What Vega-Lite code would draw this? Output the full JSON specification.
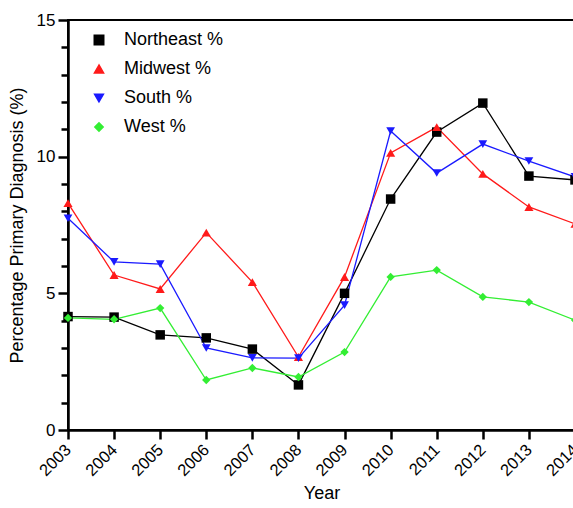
{
  "$schema": "https://vega.github.io/schema/vega-lite/v6.json",
  "width": 507,
  "height": 410,
  "autosize": {"type": "none"},
  "padding": {"left": 68, "top": 20, "right": 0, "bottom": 78},
  "background": "white",
  "config": {
    "font": "Liberation Sans",
    "view": {"stroke": "black", "strokeWidth": 2}
  },
  "data": {
    "values": [
      {"year": 2003, "region": "Northeast %", "value": 4.15},
      {"year": 2004, "region": "Northeast %", "value": 4.13},
      {"year": 2005, "region": "Northeast %", "value": 3.48},
      {"year": 2006, "region": "Northeast %", "value": 3.37},
      {"year": 2007, "region": "Northeast %", "value": 2.96},
      {"year": 2008, "region": "Northeast %", "value": 1.65},
      {"year": 2009, "region": "Northeast %", "value": 5.0},
      {"year": 2010, "region": "Northeast %", "value": 8.45},
      {"year": 2011, "region": "Northeast %", "value": 10.9},
      {"year": 2012, "region": "Northeast %", "value": 11.96},
      {"year": 2013, "region": "Northeast %", "value": 9.29},
      {"year": 2014, "region": "Northeast %", "value": 9.15},
      {"year": 2003, "region": "Midwest %", "value": 8.3},
      {"year": 2004, "region": "Midwest %", "value": 5.67},
      {"year": 2005, "region": "Midwest %", "value": 5.16},
      {"year": 2006, "region": "Midwest %", "value": 7.22},
      {"year": 2007, "region": "Midwest %", "value": 5.41},
      {"year": 2008, "region": "Midwest %", "value": 2.67},
      {"year": 2009, "region": "Midwest %", "value": 5.6},
      {"year": 2010, "region": "Midwest %", "value": 10.14},
      {"year": 2011, "region": "Midwest %", "value": 11.08},
      {"year": 2012, "region": "Midwest %", "value": 9.37},
      {"year": 2013, "region": "Midwest %", "value": 8.16},
      {"year": 2014, "region": "Midwest %", "value": 7.54},
      {"year": 2003, "region": "South %", "value": 7.75},
      {"year": 2004, "region": "South %", "value": 6.15},
      {"year": 2005, "region": "South %", "value": 6.07},
      {"year": 2006, "region": "South %", "value": 3.0},
      {"year": 2007, "region": "South %", "value": 2.64},
      {"year": 2008, "region": "South %", "value": 2.63},
      {"year": 2009, "region": "South %", "value": 4.57},
      {"year": 2010, "region": "South %", "value": 10.94},
      {"year": 2011, "region": "South %", "value": 9.4},
      {"year": 2012, "region": "South %", "value": 10.46},
      {"year": 2013, "region": "South %", "value": 9.84},
      {"year": 2014, "region": "South %", "value": 9.26},
      {"year": 2003, "region": "West %", "value": 4.1},
      {"year": 2004, "region": "West %", "value": 4.05},
      {"year": 2005, "region": "West %", "value": 4.46},
      {"year": 2006, "region": "West %", "value": 1.83},
      {"year": 2007, "region": "West %", "value": 2.27},
      {"year": 2008, "region": "West %", "value": 1.94},
      {"year": 2009, "region": "West %", "value": 2.85},
      {"year": 2010, "region": "West %", "value": 5.6},
      {"year": 2011, "region": "West %", "value": 5.85},
      {"year": 2012, "region": "West %", "value": 4.87},
      {"year": 2013, "region": "West %", "value": 4.68},
      {"year": 2014, "region": "West %", "value": 4.02}
    ]
  },
  "encoding": {
    "x": {
      "field": "year",
      "type": "quantitative",
      "scale": {"domain": [2003, 2014], "nice": false, "zero": false},
      "axis": {
        "title": "Year",
        "values": [2003, 2004, 2005, 2006, 2007, 2008, 2009, 2010, 2011, 2012, 2013, 2014],
        "format": "d",
        "grid": false,
        "domainColor": "black",
        "domainWidth": 2.5,
        "tickColor": "black",
        "tickWidth": 2.5,
        "tickSize": 9,
        "labelAngle": -45,
        "labelAlign": "right",
        "labelBaseline": "middle",
        "labelPadding": 8,
        "labelFontSize": 16.5,
        "labelColor": "black",
        "labelFlush": false,
        "labelOverlap": false,
        "titleFontSize": 18,
        "titleFontWeight": "normal",
        "titleColor": "black",
        "titlePadding": 6
      }
    },
    "y": {
      "field": "value",
      "type": "quantitative",
      "scale": {"domain": [0, 15], "nice": false},
      "axis": {
        "title": "Percentage Primary Diagnosis (%)",
        "values": [0, 1, 2, 3, 4, 5, 6, 7, 8, 9, 10, 11, 12, 13, 14, 15],
        "labelExpr": "datum.value % 5 === 0 ? datum.label : ''",
        "grid": false,
        "domainColor": "black",
        "domainWidth": 2.5,
        "tickColor": "black",
        "tickWidth": 2.5,
        "tickSize": {"condition": {"test": "datum.value % 5 === 0", "value": 10}, "value": 7},
        "labelPadding": 3,
        "labelFontSize": 17,
        "labelColor": "black",
        "labelFlush": false,
        "titleFontSize": 18,
        "titleFontWeight": "normal",
        "titleColor": "black",
        "titlePadding": 10
      }
    },
    "color": {
      "field": "region",
      "type": "nominal",
      "scale": {
        "domain": ["Northeast %", "Midwest %", "South %", "West %"],
        "range": ["#000000", "#ff1a1a", "#1a1aff", "#33ee33"]
      },
      "legend": {
        "title": null,
        "orient": "none",
        "legendX": 22,
        "legendY": 11,
        "labelFontSize": 18,
        "labelColor": "black",
        "labelLimit": 300,
        "labelOffset": 16,
        "rowPadding": 11,
        "symbolOpacity": 1
      }
    }
  },
  "layer": [
    {
      "mark": {"type": "line", "strokeWidth": 1.3},
      "encoding": {}
    },
    {
      "mark": {"type": "point", "filled": true, "opacity": 1},
      "encoding": {
        "shape": {
          "field": "region",
          "type": "nominal",
          "scale": {
            "domain": ["Northeast %", "Midwest %", "South %", "West %"],
            "range": ["square", "triangle-up", "triangle-down", "diamond"]
          },
          "legend": null
        },
        "size": {
          "field": "region",
          "type": "nominal",
          "scale": {
            "domain": ["Northeast %", "Midwest %", "South %", "West %"],
            "range": [90, 70, 70, 55]
          },
          "legend": null
        }
      }
    }
  ]
}
